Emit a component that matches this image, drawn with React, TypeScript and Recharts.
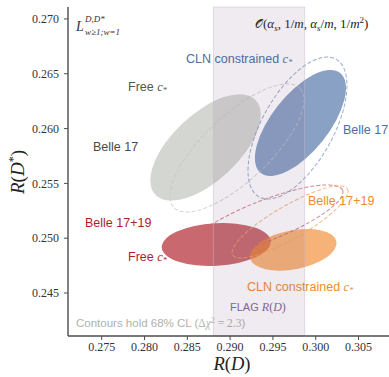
import React from 'react';
import { ScatterChart, Scatter, XAxis, YAxis, ReferenceArea, Customized } from 'recharts';

// ---- data ----
const xTicks = [0.275, 0.28, 0.285, 0.29, 0.295, 0.3, 0.305];
const yTicks = [0.245, 0.25, 0.255, 0.26, 0.265, 0.27];
const xDomain = [0.27106, 0.30868];
const yDomain = [0.24108, 0.27109];

// FLAG R(D) band
const flagRange = [0.28805, 0.29871];

// filled 68% CL contours: Free Belle17, CLN Belle17, Free Belle17+19, CLN Belle17+19
const filledNames = ['Free c* / Belle 17', 'CLN c* / Belle 17', 'Free c* / Belle 17+19', 'CLN c* / Belle 17+19'];
const filledRD = [0.28713, 0.29822, 0.28838, 0.29738];
const filledRDs = [0.25828, 0.26051, 0.24943, 0.24894];
const filledErrRD = [0.00645, 0.00532, 0.00637, 0.00506];
const filledErrRDs = [0.00485, 0.00484, 0.00196, 0.0019];
const filledRho = [0.62, 0.66, 0.12, 0.32];

// dashed contours (alternative fits)
const dashedRD = [0.29081, 0.29787, 0.29402, 0.297];
const dashedRDs = [0.25823, 0.26005, 0.25157, 0.25148];
const dashedErrRD = [0.00783, 0.00578, 0.00917, 0.00678];
const dashedErrRDs = [0.00584, 0.00648, 0.00329, 0.00329];
const dashedRho = [0.75, 0.6, 0.8, 0.85];

// ---- styles ----
const fillColors = ['#b8bcb2', '#4a6fa5', '#b22a32', '#f28a2e'];
const fillOpacity = [0.6, 0.65, 0.7, 0.65];
const dashColors = ['#c4c4c4', '#8198c0', '#c76a74', '#f3a766'];
const dashOpacity = [0.7, 0.8, 0.8, 0.8];

const SANS = 'Liberation Sans, Arial, sans-serif';
const SERIF = 'Liberation Serif, DejaVu Serif, serif';

function makeEllipse(rho: number, style: any) {
  return (props: any) => {
    const w = Math.abs(props.width);
    const h = Math.abs(props.height);
    const x0 = Math.min(props.x, props.x + props.width);
    const y0 = Math.min(props.y, props.y + props.height);
    const cx = x0 + w / 2;
    const cy = y0 + h / 2;
    const A = w / 2;
    const B = h / 2;
    const a = A * A;
    const b = B * B;
    const c = -rho * A * B; // pixel y axis is inverted
    const mid = (a + b) / 2;
    const d = Math.sqrt(((a - b) / 2) ** 2 + c * c);
    const rx = Math.sqrt(mid + d);
    const ry = Math.sqrt(Math.max(mid - d, 0));
    const theta = (0.5 * Math.atan2(2 * c, a - b) * 180) / Math.PI;
    return (
      <ellipse cx={cx} cy={cy} rx={rx} ry={ry} transform={`rotate(${theta} ${cx} ${cy})`} {...style} />
    );
  };
}

const centers = filledRD.map((v, i) => ({ x: v, y: filledRDs[i], name: filledNames[i] }));

const Labels = () => (
  <g>
    {/* top-left */}
    <text fontFamily={SERIF} fill="#333" fontStyle="italic">
      <tspan x={76} y={31} fontSize={14}>L</tspan>
      <tspan x={85} y={22} fontSize={9}>D,D*</tspan>
      <tspan x={85} y={35} fontSize={9}>w≥1;w=1</tspan>
    </text>
    {/* top-right */}
    <text x={255} y={28} fontFamily={SERIF} fontSize={13} fill="#222">
      <tspan fontFamily="DejaVu Serif, DejaVu Sans, serif" fontSize={12}>𝒪</tspan>(<tspan fontStyle="italic">α</tspan>
      <tspan fontSize={9} dy={3} fontStyle="italic">s</tspan>
      <tspan dy={-3}>, 1/</tspan><tspan fontStyle="italic">m</tspan>, <tspan fontStyle="italic">α</tspan>
      <tspan fontSize={9} dy={3} fontStyle="italic">s</tspan>
      <tspan dy={-3}>/</tspan><tspan fontStyle="italic">m</tspan>, 1/<tspan fontStyle="italic">m</tspan>
      <tspan fontSize={9} dy={-5}>2</tspan><tspan dy={5}>)</tspan>
    </text>
    <g fontFamily={SANS} fontSize={12.5}>
      <text x={186} y={63} fill="#4a6ea8">CLN constrained <tspan fontFamily={SERIF} fontStyle="italic">c</tspan><tspan fontFamily={SERIF} fontStyle="italic" fontSize={8} dy={2}>*</tspan></text>
      <text x={128} y={91} fill="#555">Free <tspan fontFamily={SERIF} fontStyle="italic">c</tspan><tspan fontFamily={SERIF} fontStyle="italic" fontSize={8} dy={2}>*</tspan></text>
      <text x={93} y={151} fill="#4a4a4a">Belle 17</text>
      <text x={343} y={134} fill="#4a6ea8">Belle 17</text>
      <text x={308} y={205} fill="#f28a2e">Belle 17+19</text>
      <text x={85} y={227} fill="#b01c2e">Belle 17+19</text>
      <text x={128} y={261} fill="#b01c2e">Free <tspan fontFamily={SERIF} fontStyle="italic">c</tspan><tspan fontFamily={SERIF} fontStyle="italic" fontSize={8} dy={2}>*</tspan></text>
      <text x={247} y={291} fill="#f28a2e">CLN constrained <tspan fontFamily={SERIF} fontStyle="italic">c</tspan><tspan fontFamily={SERIF} fontStyle="italic" fontSize={8} dy={2}>*</tspan></text>
    </g>
    <text x={230} y={311} fontFamily={SANS} fontSize={11} fill="#7f6a96">FLAG <tspan fontFamily={SERIF} fontStyle="italic" fontSize={12}>R</tspan><tspan fontFamily={SERIF} fontSize={12}>(</tspan><tspan fontFamily={SERIF} fontStyle="italic" fontSize={12}>D</tspan><tspan fontFamily={SERIF} fontSize={12}>)</tspan></text>
    <text x={76} y={327} fontFamily={SANS} fontSize={11.5} fill="#b0b2aa">Contours hold 68% CL (<tspan fontFamily={SERIF}>Δ</tspan><tspan fontFamily={SERIF} fontStyle="italic">χ</tspan><tspan fontFamily={SERIF} fontSize={8} dy={-4}>2</tspan><tspan fontFamily={SERIF} dy={4}> = 2.3</tspan>)</text>
    {/* axis labels */}
    <text x={232} y={370} textAnchor="middle" fontFamily={SERIF} fontSize={18.5} fill="#222">
      <tspan fontStyle="italic">R</tspan>(<tspan fontStyle="italic">D</tspan>)
    </text>
    <text x={24} y={172} textAnchor="middle" fontFamily={SERIF} fontSize={19} fill="#222" transform="rotate(-90 24 172)">
      <tspan fontStyle="italic">R</tspan>(<tspan fontStyle="italic">D</tspan><tspan fontSize={12} dy={-7}>*</tspan><tspan dy={7}>)</tspan>
    </text>
  </g>
);

export default function App() {
  const tickStyle = { fontFamily: SERIF, fontSize: 12, fill: '#333' };
  return (
    <div style={{ position: 'absolute', left: 0, top: 0, width: 389, height: 377, overflow: 'hidden', background: '#fff' }}>
      <ScatterChart width={392} height={377} margin={{ top: 7, right: 2, bottom: 0, left: 0 }}>
        <XAxis
          xAxisId="b"
          type="number"
          dataKey="x"
          domain={xDomain}
          ticks={xTicks}
          allowDataOverflow
          height={41}
          tickSize={4}
          tickMargin={2}
          tick={tickStyle}
          tickFormatter={(v: number) => v.toFixed(3)}
          axisLine={{ stroke: '#4d4d4d', strokeWidth: 1.4 }}
          tickLine={{ stroke: '#4d4d4d' }}
        />
        <XAxis
          xAxisId="t"
          orientation="top"
          type="number"
          domain={xDomain}
          allowDataOverflow
          height={0}
          tick={false}
          tickLine={false}
          axisLine={{ stroke: '#4d4d4d', strokeWidth: 1.4 }}
        />
        <YAxis
          type="number"
          dataKey="y"
          domain={yDomain}
          ticks={yTicks}
          allowDataOverflow
          width={68}
          tickSize={4}
          tickMargin={5}
          tick={tickStyle}
          tickFormatter={(v: number) => v.toFixed(3)}
          axisLine={{ stroke: '#4d4d4d', strokeWidth: 1.4 }}
          tickLine={{ stroke: '#4d4d4d' }}
        />
        {filledRD.map((v, i) => (
          <ReferenceArea
            key={'f' + i}
            xAxisId="b"
            x1={v - filledErrRD[i]}
            x2={v + filledErrRD[i]}
            y1={filledRDs[i] - filledErrRDs[i]}
            y2={filledRDs[i] + filledErrRDs[i]}
            ifOverflow="visible"
            shape={makeEllipse(filledRho[i], { fill: fillColors[i], fillOpacity: fillOpacity[i], stroke: 'none' })}
          />
        ))}
        {dashedRD.map((v, i) => (
          <ReferenceArea
            key={'d' + i}
            xAxisId="b"
            x1={v - dashedErrRD[i]}
            x2={v + dashedErrRD[i]}
            y1={dashedRDs[i] - dashedErrRDs[i]}
            y2={dashedRDs[i] + dashedErrRDs[i]}
            ifOverflow="visible"
            shape={makeEllipse(dashedRho[i], { fill: 'none', stroke: dashColors[i], strokeWidth: 1, strokeDasharray: '4 2', strokeOpacity: dashOpacity[i] })}
          />
        ))}
        <ReferenceArea
          xAxisId="b"
          x1={flagRange[0]}
          x2={flagRange[1]}
          ifOverflow="visible"
          fill="#785a82"
          fillOpacity={0.12}
          stroke="#c9b8cc"
          strokeOpacity={0.6}
          strokeWidth={0.8}
        />
        <Scatter xAxisId="b" data={centers} isAnimationActive={false} shape={() => <g />} />
        <Customized component={Labels} />
      </ScatterChart>
    </div>
  );
}
